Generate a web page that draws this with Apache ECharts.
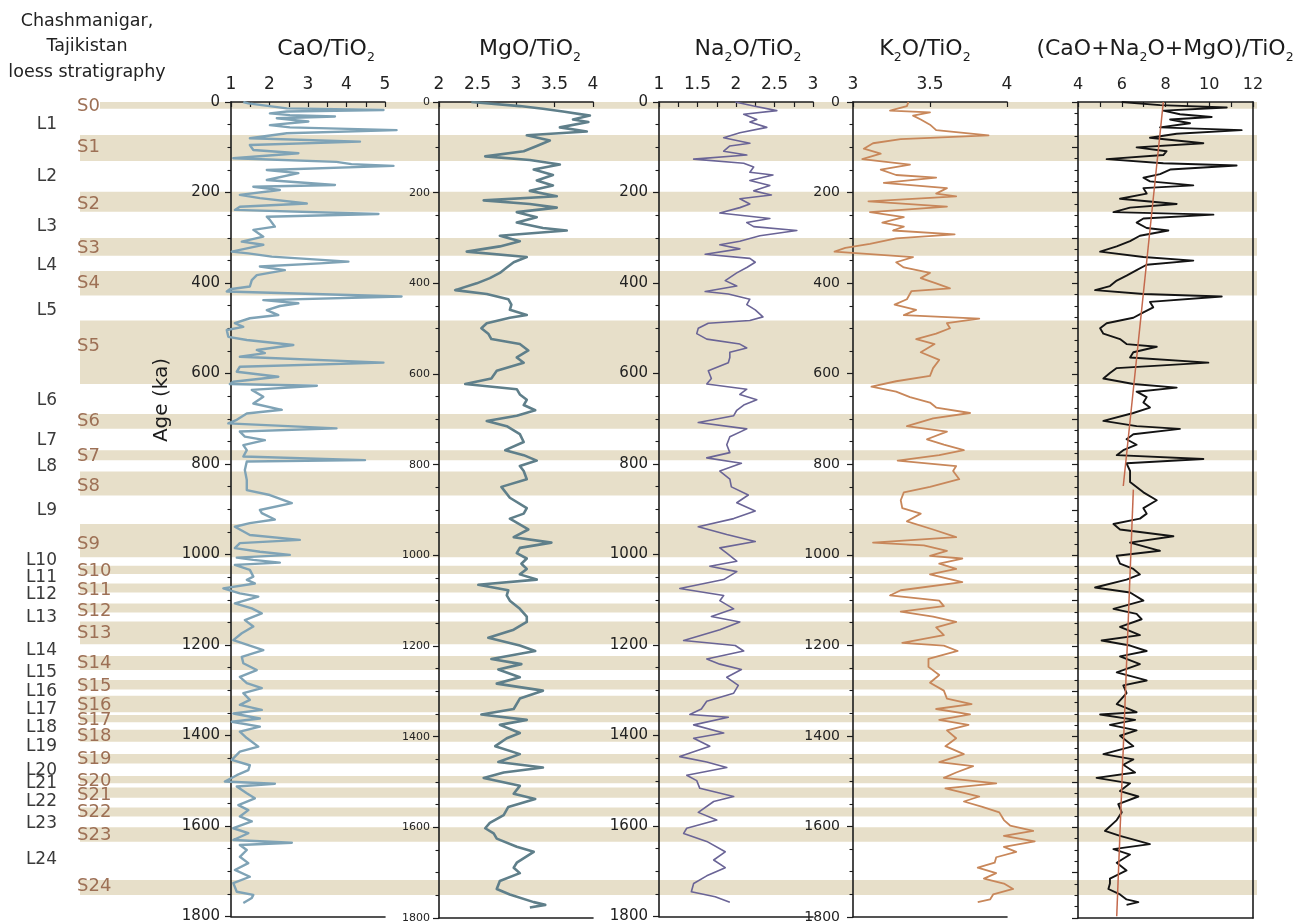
<!DOCTYPE html>
<html>
<head>
<meta charset="utf-8">
<script src="https://cdn.jsdelivr.net/npm/echarts@6/dist/echarts.min.js"></script>
<style>
html,body{margin:0;padding:0;background:#fff;}
#chart{width:1297px;height:924px;}
</style>
</head>
<body>
<div id="chart"></div>
<script>
// ---- Data: [age (ka), ratio] pairs for each oxide record ----
const caoTio2 = [[0,1.32],[3,1.45],[14,2.45],[17.6,4.96],[21,2.45],[25,2.01],[29,2.53],[32,3.70],[36,2.19],[43,3.01],[51,2.01],[56,2.53],[62,5.30],[69,2.45],[80,1.49],[87.5,4.35],[95,1.49],[106,1.58],[113,2.75],[124,1.06],[132,3.74],[137,4.13],[141,5.22],[150,1.93],[157,2.75],[172,1.93],[183,3.70],[187,1.58],[194,2.27],[205,1.23],[212,1.75],[224,2.97],[231,1.23],[238,1.10],[247,4.83],[253,1.93],[260,2.01],[275,2.14],[282,1.58],[297,1.84],[308,1.28],[315,1.84],[330,1.02],[334,1.45],[341,2.06],[352,4.05],[356,3.31],[363,1.75],[371,2.40],[382,1.67],[393,1.54],[407,1.49],[413,0.97],[418,0.89],[429,5.43],[437,1.84],[444,2.75],[450,2.27],[459,1.93],[470,2.23],[477,1.49],[488,1.10],[496,1.32],[503,0.89],[518,0.93],[525,1.41],[536,2.62],[547,1.67],[554,1.88],[562,1.23],[575,4.96],[584,1.23],[595,1.15],[606,2.23],[617,1.06],[622,0.97],[626,3.23],[635,1.54],[650,1.84],[665,1.58],[679,2.32],[687,1.41],[701,1.15],[709,0.93],[720,3.74],[727,1.23],[738,1.36],[746,1.88],[757,1.32],[768,1.41],[782,1.32],[790,4.48],[793,1.41],[812,1.36],[834,1.41],[856,1.41],[867,2.01],[885,2.58],[900,1.75],[907,1.80],[921,2.14],[929,1.49],[937,1.10],[955,1.49],[966,2.79],[973,1.23],[984,1.10],[992,1.75],[999,2.53],[1005,1.15],[1010,1.58],[1016,2.27],[1021,1.10],[1032,1.49],[1047,1.58],[1054,1.41],[1062,1.62],[1073,0.80],[1084,1.23],[1091,1.71],[1106,1.10],[1117,1.54],[1128,1.80],[1143,1.36],[1157,1.58],[1172,1.28],[1187,1.06],[1209,1.84],[1224,1.28],[1238,1.32],[1253,1.67],[1268,1.23],[1282,1.41],[1293,1.80],[1304,1.32],[1319,1.49],[1330,1.23],[1341,1.80],[1349,1.06],[1360,1.75],[1367,1.02],[1378,1.75],[1389,1.23],[1403,1.41],[1422,1.71],[1433,1.23],[1451,1.02],[1463,1.49],[1474,1.45],[1485,1.15],[1499,0.84],[1504,2.14],[1510,1.15],[1525,1.41],[1536,1.62],[1551,1.19],[1562,1.45],[1576,1.23],[1587,1.54],[1602,1.06],[1613,1.45],[1628,1.06],[1634,2.58],[1639,1.23],[1650,1.41],[1665,1.23],[1679,1.45],[1694,1.10],[1709,1.49],[1723,1.06],[1742,1.15],[1749,1.58],[1756,1.54],[1767,1.32]];

const mgoTio2 = [[0,2.42],[9,3.05],[15,3.35],[21,3.61],[30,3.96],[38.5,3.74],[44,3.94],[56,3.57],[65,3.92],[73.5,3.14],[85,3.44],[97,3.27],[108.5,3.10],[120,2.60],[128,3.18],[138,3.57],[149,3.23],[161,3.48],[173,3.27],[184,3.48],[196,3.18],[208,3.53],[217,2.58],[225,3.18],[233,3.53],[243,3.01],[254,3.27],[266,3.01],[278,3.35],[283.5,3.66],[295,2.79],[307,3.05],[318.5,2.79],[330,2.36],[342,3.14],[353.5,2.97],[365,2.88],[377,2.79],[388.5,2.66],[400,2.49],[415,2.21],[423.5,2.62],[435,2.90],[447,2.94],[458.5,2.92],[470,3.14],[476,2.92],[488,2.62],[499,2.55],[511,2.64],[523,2.68],[534,3.05],[548,3.16],[563.5,3.01],[575,3.10],[593,2.75],[610,2.68],[622,2.34],[633.5,3.01],[645,3.05],[657,3.14],[668.5,3.10],[680,3.25],[692,3.01],[703.5,2.62],[715,2.88],[732.5,3.05],[750,3.10],[768,2.86],[779,3.10],[791,3.27],[803,3.05],[814,3.10],[832,3.14],[849,2.81],[873,2.92],[896,3.14],[908,3.10],[919,2.92],[943,3.16],[960,2.97],[972,3.46],[983.5,3.05],[995,3.01],[1007,3.14],[1018.5,3.07],[1030,3.14],[1042,3.05],[1053.5,3.27],[1065,2.51],[1077,2.90],[1088.5,2.88],[1100,2.92],[1118,3.05],[1135,3.14],[1147,3.14],[1164,2.97],[1182,2.64],[1199,3.05],[1211,3.25],[1228.5,2.68],[1240,3.07],[1252,2.77],[1269,3.05],[1283,2.75],[1298.5,3.35],[1316,3.05],[1339,2.97],[1351,2.55],[1363,3.14],[1374,2.79],[1392,3.05],[1403.5,2.88],[1421,2.73],[1438.5,3.05],[1456,2.77],[1468,3.35],[1479,2.84],[1491,2.58],[1508.5,3.05],[1526,2.97],[1537.5,3.25],[1555,2.90],[1573,2.84],[1590,2.66],[1602,2.60],[1613.5,2.71],[1625,2.75],[1643,3.01],[1654,3.23],[1678,3.01],[1689,2.97],[1701,3.05],[1718.5,2.79],[1736,2.75],[1748,2.92],[1765,3.23],[1771,3.38],[1777,3.18]];

const na2oTio2 = [[0,1.99],[9,2.23],[19,2.53],[27,2.10],[38.5,2.27],[44,2.18],[56,2.40],[68,2.05],[79,1.84],[91,2.18],[97,1.92],[108.5,1.84],[117,2.14],[126,1.45],[135,2.10],[143.5,2.23],[155,2.18],[161,2.48],[173,2.18],[184,2.44],[196,2.23],[205,2.46],[213.5,2.05],[225,2.18],[233,2.05],[245,1.79],[257,2.44],[266,2.14],[275,2.23],[283.5,2.79],[295,2.31],[307,2.05],[315,1.79],[324,2.05],[336,1.60],[345,2.18],[353.5,2.25],[365,2.14],[377,2.01],[394,1.86],[406,2.01],[418,1.60],[423.5,1.90],[435,2.18],[447,2.14],[458.5,2.25],[474,2.35],[482,2.18],[488,1.64],[499,1.51],[511,1.49],[523,1.62],[534,2.05],[542.5,2.14],[552,1.92],[563.5,1.92],[575,1.90],[593,1.64],[610,1.68],[622,1.62],[633.5,2.14],[645,2.05],[657,2.27],[668.5,2.10],[680,2.01],[692,1.97],[707,1.51],[721,2.14],[738.5,1.92],[756,1.88],[773.5,1.92],[785,1.62],[797,2.07],[814,1.79],[832,1.92],[849,1.94],[867,2.16],[884,2.01],[902,2.25],[919,1.97],[937,1.51],[954,1.88],[969.5,2.25],[983.5,1.79],[995,1.88],[1013,2.01],[1024,1.66],[1036,2.01],[1053.5,1.84],[1073,1.27],[1088.5,1.84],[1100,1.79],[1118,1.97],[1135,1.68],[1147,2.05],[1164,1.79],[1188,1.32],[1199,1.99],[1211,2.10],[1228.5,1.62],[1240,1.79],[1252,2.07],[1269,1.88],[1287,2.03],[1304,1.97],[1322,1.62],[1339,1.55],[1351,1.40],[1357,1.90],[1374,1.45],[1392,1.84],[1403.5,1.45],[1421,1.66],[1444,1.27],[1456,1.62],[1468,1.88],[1485,1.36],[1497,1.49],[1514,1.53],[1532,1.97],[1543,1.71],[1567,1.51],[1584,1.75],[1602,1.36],[1613.5,1.32],[1631,1.62],[1654,1.86],[1672,1.71],[1689,1.86],[1707,1.62],[1724,1.45],[1742,1.42],[1753,1.73],[1765,1.92]];

const k2oTio2 = [[0,3.36],[9,3.35],[19,3.24],[23,3.50],[30,3.39],[38.5,3.44],[50,3.50],[62,3.54],[73.5,3.88],[82,3.31],[91,3.13],[103,3.07],[114,3.18],[126,3.06],[138,3.37],[149,3.18],[161,3.28],[167,3.54],[178.5,3.20],[190,3.61],[202,3.54],[208,3.67],[219,3.10],[231,3.61],[243,3.11],[254,3.33],[266,3.19],[275,3.33],[283.5,3.26],[292,3.66],[301,3.28],[313,3.11],[322,2.95],[330,2.88],[342,3.39],[353.5,3.28],[365,3.33],[377,3.50],[388.5,3.44],[400,3.54],[411,3.63],[417,3.38],[435,3.35],[447,3.27],[458.5,3.41],[470,3.33],[478,3.82],[488,3.61],[499,3.63],[511,3.54],[523,3.41],[534,3.53],[552,3.44],[569,3.56],[587,3.52],[604,3.50],[616,3.28],[628,3.12],[639,3.28],[651,3.37],[663,3.50],[674,3.54],[686,3.76],[698,3.52],[715,3.35],[727,3.61],[744,3.48],[756,3.59],[768,3.72],[779,3.56],[791,3.29],[803,3.67],[814,3.65],[832,3.69],[849,3.50],[861,3.33],[878.5,3.31],[896,3.32],[908,3.44],[925,3.35],[943,3.52],[960,3.67],[972,3.13],[978,3.46],[990,3.61],[1001,3.50],[1007,3.71],[1018.5,3.56],[1030,3.67],[1042,3.50],[1059,3.71],[1077,3.31],[1088.5,3.24],[1100,3.56],[1112,3.59],[1124,3.31],[1135,3.52],[1147,3.67],[1159,3.54],[1176,3.59],[1193,3.32],[1199,3.59],[1211,3.68],[1228.5,3.49],[1246,3.49],[1264,3.56],[1281,3.50],[1298.5,3.59],[1316,3.61],[1328,3.77],[1339,3.54],[1351,3.76],[1363,3.56],[1374,3.75],[1386,3.61],[1403.5,3.67],[1421,3.60],[1438.5,3.72],[1456,3.56],[1465,3.78],[1479,3.67],[1491,3.59],[1503,3.93],[1514,3.60],[1532,3.82],[1543,3.72],[1555,3.84],[1567,3.95],[1584,3.98],[1596,4.02],[1608,4.17],[1619,3.98],[1631,4.18],[1643,3.98],[1654,4.06],[1666,3.93],[1678,3.92],[1689,3.81],[1701,3.93],[1713,3.85],[1724,3.98],[1736,4.04],[1748,3.91],[1759,3.89],[1765,3.81]];

const sumTio2 = [[0,6.00],[7,7.75],[12,10.80],[19,7.90],[27,8.66],[33,10.11],[38.5,8.21],[47,9.12],[56,7.75],[62,11.48],[70,8.51],[79,7.29],[91,9.73],[100,6.68],[108.5,8.05],[117,7.90],[126,5.31],[135,7.90],[140,11.25],[149,8.21],[159,7.75],[167,6.99],[175,7.29],[184,9.27],[190,6.99],[202,7.14],[213.5,5.92],[225,8.51],[233,6.38],[243,5.62],[248.5,10.19],[257,6.99],[266,6.68],[278,7.14],[283.5,8.13],[295,6.83],[307,6.38],[318.5,5.77],[330,5.01],[342,6.99],[350,9.27],[359,7.14],[371,6.68],[383,6.22],[394,5.77],[406,5.46],[415,4.78],[423.5,6.99],[429,10.57],[441,7.29],[453,7.44],[464,6.99],[476,6.53],[488,5.31],[499,5.01],[511,5.16],[523,5.92],[534,6.22],[540,7.60],[552,6.53],[563.5,6.38],[575,9.96],[587,5.77],[598,5.46],[610,5.16],[622,6.53],[630,8.51],[639,6.68],[651,7.14],[663,6.99],[674,7.29],[686,6.53],[703.5,5.16],[715,6.68],[721,8.66],[733,6.53],[744,6.22],[756,6.68],[768,6.07],[779,5.77],[787.5,9.73],[797,6.22],[814,6.38],[838,6.38],[861,6.99],[878.5,7.60],[896,6.99],[908,7.14],[919,6.83],[931,5.62],[943,5.92],[958,8.36],[972,6.38],[990,7.75],[1001,5.77],[1018.5,5.92],[1030,6.53],[1042,6.83],[1053.5,6.22],[1071,4.78],[1082,6.38],[1100,6.99],[1118,5.62],[1129,6.68],[1141,6.91],[1158,5.92],[1176,6.83],[1188,5.08],[1199,6.38],[1211,7.14],[1223,5.92],[1240,6.83],[1258,5.77],[1276,7.14],[1287,6.07],[1304,6.22],[1328,5.77],[1346,6.68],[1351,5.01],[1363,6.61],[1374,5.46],[1386,6.68],[1398,5.92],[1421,6.53],[1438.5,5.16],[1450,6.53],[1462,6.07],[1479,6.61],[1491,4.85],[1503,6.38],[1520,5.92],[1532,6.76],[1549,5.84],[1567,6.00],[1584,5.77],[1608,5.23],[1619,5.92],[1637,7.29],[1648,5.62],[1660,6.38],[1678,5.77],[1695,6.22],[1713,5.46],[1724,5.46],[1736,5.39],[1748,5.92],[1759,6.22],[1765,6.76],[1771,6.22]];

// Linear trends of the summed ratio, before and after ~850 ka
const trendUpper = [[0,7.9],[847,6.07]];
const trendLower = [[855,6.53],[1796,5.77]];

// Palaeosol units: [top age, bottom age] in ka
const soilBands = [[0,15],[73,130],[198,242],[300,339],[373,427],[482,622],[688,721],[768,790],[815,868],[931,1004],[1023,1041],[1062,1082],[1106,1126],[1146,1196],[1222,1253],[1275,1296],[1310,1346],[1352,1368],[1385,1411],[1438,1459],[1487,1503],[1512,1535],[1556,1576],[1600,1632],[1716,1749]];
const soilNames = ['S0','S1','S2','S3','S4','S5','S6','S7','S8','S9','S10','S11','S12','S13','S14','S15','S16','S17','S18','S19','S20','S21','S22','S23','S24'];
const soilLabelAges = [10,101,225,322,399,540,705,782,848,975,1036,1078,1123,1172,1238,1288,1330,1364,1399,1449,1499,1529,1568,1617,1731];
const loessNames = ['L1','L2','L3','L4','L5','L6','L7','L8','L9','L10','L11','L12','L13','L14','L15','L16','L17','L18','L19','L20','L21','L22','L23','L24'];
const loessLabelAges = [49,165,275,360,459,659,746,805,902,1012,1048,1087,1138,1210,1259,1301,1341,1380,1422,1474,1504,1543,1591,1672];

// Axis ranges (value min/max, tick step, labelled step) and the wider
// range each curve is allowed to run over past its axis frame
const xRanges = [
  {min:1, max:5, interval:0.5, labelStep:1, lo:0.6, hi:5.6},
  {min:2, max:4, interval:0.5, labelStep:0.5, lo:1.9, hi:4.1},
  {min:1, max:3, interval:0.25, labelStep:0.5, lo:0.9, hi:3.1},
  {min:3, max:4, interval:0.5, labelStep:0.5, lo:2.8, hi:4.3},
  {min:4, max:12, interval:1, labelStep:2, lo:3.5, hi:12.5}
];
const ageMin = 0, ageMax = 1800;

// ---- Layout and style ----
const FONT = 'DejaVu Sans';
const TOP = 102, H = 816;
const INK = '#1c1c1c';
const panels = [
  {left:231, width:154, color:'#7fa3b6', lw:2.4, yFont:15, yMargin:11, xFont:17},
  {left:439, width:154, color:'#5f7f8a', lw:2.6, yFont:11, yMargin:9,  xFont:17},
  {left:659, width:154, color:'#6a6496', lw:1.6, yFont:15, yMargin:11, xFont:17},
  {left:853, width:154, color:'#c8875a', lw:1.8, yFont:14, yMargin:13, xFont:17},
  {left:1078, width:175, color:'#141414', lw:1.9, yFont:0, yMargin:0, xFont:16}
];
const titles = [
  {x:326, text:'{n|CaO/TiO}{s|2}'},
  {x:530, text:'{n|MgO/TiO}{s|2}'},
  {x:748, text:'{n|Na}{s|2}{n|O/TiO}{s|2}'},
  {x:925, text:'{n|K}{s|2}{n|O/TiO}{s|2}'},
  {x:1165, text:'{n|(CaO+Na}{s|2}{n|O+MgO)/TiO}{s|2}'}
];
const records = [caoTio2, mgoTio2, na2oTio2, k2oTio2, sumTio2];

const isStep = (v, base, step) => {
  const q = (v - base) / step;
  return Math.abs(q - Math.round(q)) < 1e-6;
};

// grids 0-4: axis frames; 5-9: curve areas (same scale, wider); 10: soil band backdrop
const grid = panels.map(p => ({left:p.left, width:p.width, top:TOP, height:H}));
panels.forEach((p, i) => {
  const r = xRanges[i];
  const k = p.width / (r.max - r.min);
  grid.push({left:p.left + (r.lo - r.min) * k, width:(r.hi - r.lo) * k, top:TOP, height:H});
});
grid.push({left:80, width:1177, top:TOP, height:H});

const axisLineStyle = {color:INK, width:1.6};

const xAxis = [];
panels.forEach((p, i) => {
  const r = xRanges[i];
  xAxis.push({
    gridIndex:i, type:'value', position:'top', min:r.min, max:r.max, interval:r.interval, z:3,
    axisLine:{show:true, onZero:false, lineStyle:axisLineStyle},
    axisTick:{show:true, inside:true, length:5, lineStyle:{color:INK, width:1.2}},
    axisLabel:{show:true, margin:9, color:'#222', fontFamily:FONT, fontSize:p.xFont,
      showMinLabel:true, showMaxLabel:true,
      formatter: v => isStep(v, r.min, r.labelStep) ? String(+v.toFixed(2)) : ''},
    splitLine:{show:false}
  });
});
panels.forEach((p, i) => {
  const r = xRanges[i];
  xAxis.push({
    gridIndex:i, type:'value', position:'bottom', min:r.min, max:r.max, z:3,
    axisLine:{show:true, onZero:false, lineStyle:axisLineStyle},
    axisTick:{show:false}, axisLabel:{show:false}, splitLine:{show:false}
  });
});
panels.forEach((p, i) => {
  const r = xRanges[i];
  xAxis.push({gridIndex:5 + i, type:'value', min:r.lo, max:r.hi, show:false});
});
xAxis.push({gridIndex:10, type:'value', min:0, max:1, show:false});

const yAxis = [];
panels.forEach((p, i) => {
  const last = i === 4;
  yAxis.push({
    gridIndex:i, type:'value', inverse:true, min:ageMin, max:ageMax, interval: last ? 100 : 200,
    position:'left', z:3,
    axisLine:{show:true, onZero:false, lineStyle:axisLineStyle},
    axisTick:{show:true, length:6, lineStyle:{color:INK, width:1.2}},
    minorTick:{show:true, splitNumber:4, length:3.5, lineStyle:{color:INK, width:1.1}},
    axisLabel:{show:!last, margin:p.yMargin, color:'#222', fontFamily:FONT, fontSize:p.yFont || 12,
      showMinLabel:true, showMaxLabel:true, formatter: v => String(v)},
    splitLine:{show:false}, minorSplitLine:{show:false}
  });
});
yAxis.push({
  gridIndex:4, type:'value', inverse:true, min:ageMin, max:ageMax, position:'right', z:3,
  axisLine:{show:true, onZero:false, lineStyle:axisLineStyle},
  axisTick:{show:false}, axisLabel:{show:false}, splitLine:{show:false}
});
panels.forEach((p, i) => {
  yAxis.push({gridIndex:5 + i, type:'value', inverse:true, min:ageMin, max:ageMax, show:false});
});
yAxis.push({gridIndex:10, type:'value', inverse:true, min:ageMin, max:ageMax, show:false});
const BAND_X = 15, BAND_Y = 11;

const series = [];

// Palaeosol bands across all panels
series.push({
  type:'custom', xAxisIndex:BAND_X, yAxisIndex:BAND_Y, z:1, silent:true, clip:false,
  data: soilBands.map(b => [0, b[0], b[1]]),
  encode:{x:0, y:[1,2]},
  renderItem(params, api) {
    const a = api.coord([0, api.value(1)]);
    const b = api.coord([1, api.value(2)]);
    const x0 = params.dataIndex === 0 ? a[0] + 20 : a[0];
    return {type:'rect', shape:{x:x0, y:a[1], width:b[0]-x0, height:b[1]-a[1]},
      style:{fill:'#e7dfc9'}};
  }
});

// Unit labels
series.push({
  type:'custom', xAxisIndex:BAND_X, yAxisIndex:BAND_Y, z:5, silent:true, clip:false,
  data: loessLabelAges.map(a => [0, a]),
  renderItem(params, api) {
    const p = api.coord([0, api.value(1)]);
    return {type:'text', x:p[0]-23, y:p[1],
      style:{text:loessNames[params.dataIndex], fill:'#3a3a3a', fontFamily:FONT, fontSize:17,
        align:'right', verticalAlign:'middle'}};
  }
});
series.push({
  type:'custom', xAxisIndex:BAND_X, yAxisIndex:BAND_Y, z:5, silent:true, clip:false,
  data: soilLabelAges.map(a => [0, a]),
  renderItem(params, api) {
    const p = api.coord([0, api.value(1)]);
    return {type:'text', x:p[0]-3, y:p[1],
      style:{text:soilNames[params.dataIndex], fill:'#9d7055', fontFamily:FONT, fontSize:18,
        align:'left', verticalAlign:'middle'}};
  }
});

// Geochemical records
records.forEach((rec, i) => {
  series.push({
    type:'line', xAxisIndex:10 + i, yAxisIndex:6 + i, z:4, silent:true,
    symbol:'none', showSymbol:false,
    lineStyle:{color:panels[i].color, width:panels[i].lw, join:'round'},
    data: rec.map(d => [d[1], d[0]])
  });
});

// Trend lines on the summed ratio
[trendUpper, trendLower].forEach(t => {
  series.push({
    type:'line', xAxisIndex:14, yAxisIndex:10, z:5, silent:true,
    symbol:'none', showSymbol:false,
    lineStyle:{color:'#c4694d', width:1.5},
    data: t.map(d => [d[1], d[0]])
  });
});

const graphic = [];
['Chashmanigar,', 'Tajikistan', 'loess stratigraphy'].forEach((t, k) => {
  graphic.push({type:'text', x:87, y:21 + k*25.5, z:20,
    style:{text:t, fill:'#222', fontFamily:FONT, fontSize:17.5, align:'center', verticalAlign:'middle'}});
});
titles.forEach(t => {
  graphic.push({type:'text', x:t.x, y:49, z:20,
    style:{text:t.text, fill:'#1c1c1c', align:'center', verticalAlign:'middle',
      rich:{
        n:{fontFamily:FONT, fontSize:22, lineHeight:30, verticalAlign:'middle', fill:'#1c1c1c'},
        s:{fontFamily:FONT, fontSize:12.5, lineHeight:13, verticalAlign:'bottom', fill:'#1c1c1c'}
      }}});
});
graphic.push({type:'text', x:162, y:400, rotation:Math.PI/2, z:20,
  style:{text:'Age (ka)', fill:'#1c1c1c', fontFamily:FONT, fontSize:20, align:'center', verticalAlign:'middle'}});

const chart = echarts.init(document.getElementById('chart'), null, {renderer:'canvas'});
chart.setOption({animation:false, backgroundColor:'#ffffff', grid, xAxis, yAxis, series, graphic});
</script>
</body>
</html>
